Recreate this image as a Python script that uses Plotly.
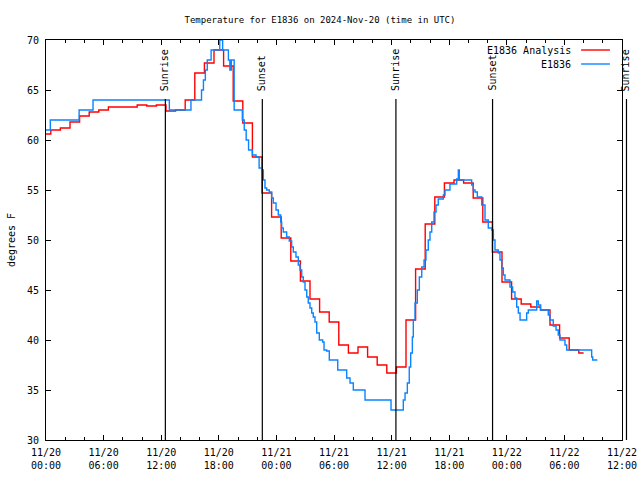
import pandas as pd
import plotly.graph_objects as go

# ---------------- data ----------------
START = pd.Timestamp("2024-11-20 00:00")
END = pd.Timestamp("2024-11-22 12:00")

# Hourly analysis values (deg F), starting 2024-11-20 00:00 UTC, one per hour
analysis_vals = [
    60.6, 61.0, 61.2, 61.8, 62.4, 62.8, 63.0, 63.3, 63.3, 63.3,
    63.5, 63.4, 63.5, 62.9, 63.0, 64.0, 66.7, 67.7, 69.0, 67.4,
    63.9, 61.7, 58.3, 54.7, 52.3, 50.2, 47.9, 45.9, 44.1, 42.8,
    41.8, 39.5, 38.7, 39.3, 38.3, 37.5, 36.7, 37.3, 42.0, 47.1,
    51.6, 54.3, 55.7, 56.0, 55.7, 54.2, 51.8, 48.8, 45.8, 44.1,
    43.6, 43.3, 43.0, 41.5, 40.2, 39.0, 38.7,
]
analysis_hours = list(range(len(analysis_vals)))

# Observations: hours after START and value (deg F)
obs_hours = [
    0.0, 0.45, 3.45, 4.9, 12.85, 15.1, 16.2, 16.4, 16.6, 16.8,
    17.2, 18.1, 18.4, 19.0, 19.15, 19.3, 19.6, 20.45, 20.65, 20.85,
    21.1, 21.5, 21.88, 22.2, 22.53, 22.64, 22.81, 22.99, 23.26, 23.51,
    23.68, 23.96, 24.2, 24.45, 24.55, 24.72, 25.07, 25.34, 25.59, 25.76,
    26.04, 26.28, 26.46, 26.64, 26.8, 26.98, 27.16, 27.32, 27.5, 27.68,
    27.84, 28.02, 28.2, 28.47, 28.82, 28.96, 29.24, 29.51, 30.39, 31.32,
    31.67, 32.01, 33.23, 35.94, 37.22, 37.4, 37.64, 37.84, 37.99, 38.16,
    38.26, 38.44, 38.68, 38.89, 39.14, 39.38, 39.58, 39.82, 40.0, 40.18,
    40.42, 40.63, 40.86, 41.39, 41.56, 42.08, 42.78, 42.95, 43.05, 44.34,
    44.51, 44.69, 44.93, 45.39, 45.73, 46.07, 46.43, 46.6, 46.77, 47.11,
    47.29, 47.47, 47.64, 47.81, 48.33, 48.61, 48.85, 49.03, 49.2, 49.38,
    50.07, 50.24, 51.11, 51.28, 51.53, 52.32, 52.5, 52.84, 53.13, 53.36,
    53.54, 54.06, 54.24, 56.84, 56.95, 57.43,
]
obs_vals = [
    61, 62, 63, 64, 63, 64, 65, 66, 67, 68,
    69, 70, 69, 68, 67, 68, 63, 62, 61, 60,
    59, 58.5, 58.3, 57.2, 57.0, 56.0, 55.2, 55.0, 54.8, 54.2,
    53.7, 53.0, 52.5, 51.8, 51.2, 50.8, 50.3, 49.9, 49.3, 48.8,
    48.3, 47.5, 47.0, 46.3, 45.8, 45.0, 44.3, 43.7, 43.2, 42.7,
    42.3, 41.8, 40.7, 40.0, 39.8, 39.0, 38.9, 38.0, 37.0, 36.2,
    35.7, 35.0, 34.0, 33.0, 34.0, 34.7, 35.7, 37.3, 38.7, 40.3,
    42.0, 43.7, 45.0, 46.3, 47.3, 48.0, 49.0, 50.0, 50.8, 51.8,
    52.8, 53.5, 54.1, 54.5, 55.0, 55.6, 56.1, 57.0, 56.0, 55.5,
    55.0, 54.8, 54.3, 53.5, 52.0, 51.2, 51.0, 50.0, 49.0, 48.7,
    48.0, 47.2, 46.5, 46.0, 45.3, 44.8, 44.2, 43.3, 42.7, 42.0,
    42.7, 43.0, 43.9, 43.5, 43.0, 42.5, 42.0, 41.4, 41.0, 40.5,
    40.0, 39.5, 39.0, 38.3, 38.0, 38.0,
]

# Sun events (UTC)
event_times = ["2024-11-20 12:26", "2024-11-20 22:32", "2024-11-21 12:27",
               "2024-11-21 22:31", "2024-11-22 12:28"]
event_labels = ["Sunrise", "Sunset", "Sunrise", "Sunset", "Sunrise"]

y_ticks = [30, 35, 40, 45, 50, 55, 60, 65, 70]

title_text = "Temperature for E1836 on 2024-Nov-20 (time in UTC)"
name_analysis = "E1836 Analysis"
name_obs = "E1836"

# ---------------- styling ----------------
FONT = "DejaVu Sans Mono"
RED = "#ff0000"
BLUE = "#0a84ff"

a_times = [START + pd.Timedelta(hours=h) for h in analysis_hours]
o_times = [START + pd.Timedelta(hours=h) for h in obs_hours]

fig = go.Figure()
fig.add_trace(go.Scatter(x=a_times, y=analysis_vals, mode="lines", name=name_analysis,
                         line=dict(color=RED, width=1.4, shape="hvh")))
fig.add_trace(go.Scatter(x=o_times, y=obs_vals, mode="lines", name=name_obs,
                         line=dict(color=BLUE, width=1.4, shape="hv")))

span = (END - START).total_seconds()
LINE_TOP = 0.8525
TEXT_BOTTOM = 0.8675
for t, lab in zip(event_times, event_labels):
    frac = (pd.Timestamp(t) - START).total_seconds() / span
    fig.add_shape(type="line", xref="paper", yref="paper", x0=frac, x1=frac,
                  y0=0, y1=LINE_TOP, line=dict(color="black", width=1.2), layer="above")
    fig.add_annotation(text=lab, xref="paper", yref="paper", x=frac, y=TEXT_BOTTOM,
                       xanchor="center", yanchor="bottom", textangle=-90,
                       showarrow=False, font=dict(family=FONT, size=10, color="black"))

# manual gnuplot-style key (text, then sample line on the right)
for i, (nm, col) in enumerate([(name_analysis, RED), (name_obs, BLUE)]):
    yy = 0.975 - i * 0.035
    fig.add_annotation(text=nm, xref="paper", yref="paper", x=0.915, y=yy,
                       xanchor="right", yanchor="middle", showarrow=False,
                       font=dict(family=FONT, size=10, color="black"))
    fig.add_shape(type="line", xref="paper", yref="paper", x0=0.929, x1=0.979,
                  y0=yy, y1=yy, line=dict(color=col, width=1.4))

fig.update_layout(
    width=640, height=480, autosize=False,
    margin=dict(l=46, r=18, t=40, b=40, autoexpand=False),
    paper_bgcolor="white", plot_bgcolor="white",
    showlegend=False,
    font=dict(family=FONT, size=9, color="black"),
    title=dict(text=title_text, x=0.5, xanchor="center", y=1 - 20 / 480, yanchor="middle",
               font=dict(family=FONT, size=9, color="black")),
)
fig.update_xaxes(
    type="date", range=[START, END], automargin=False,
    tick0=START, dtick=6 * 3600 * 1000, tickformat="%m/%d<br>%H:%M",
    ticks="inside", ticklen=5, tickcolor="black", tickwidth=1,
    minor=dict(dtick=2 * 3600 * 1000, ticks="inside", ticklen=3, tickcolor="black", showgrid=False),
    showline=True, linecolor="black", linewidth=1, mirror="allticks",
    showgrid=False, zeroline=False, ticklabelstandoff=3,
    tickfont=dict(family=FONT, size=10),
)
fig.update_yaxes(
    range=[30, 70], tickvals=y_ticks, automargin=False,
    ticks="inside", ticklen=5, tickcolor="black", tickwidth=1,
    showline=True, linecolor="black", linewidth=1, mirror="allticks",
    showgrid=False, zeroline=False, ticklabelstandoff=4,
    tickfont=dict(family=FONT, size=10),
    title=dict(text="degrees F", standoff=9, font=dict(family=FONT, size=10)),
)

fig.write_html("out.html", config={"displayModeBar": False},
               post_script="document.body.style.margin='0px';")
